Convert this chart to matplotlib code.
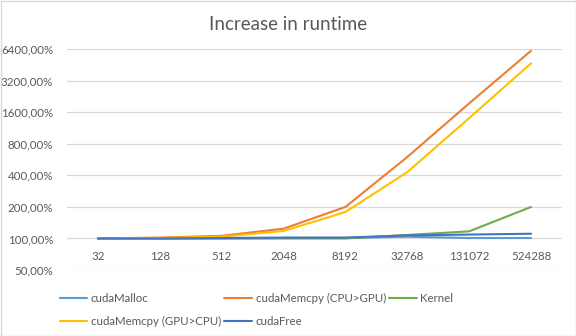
import matplotlib
matplotlib.use("Agg")
import matplotlib.pyplot as plt
from matplotlib.patches import Rectangle
from matplotlib.ticker import FixedLocator, FuncFormatter, NullLocator

plt.rcParams['font.family'] = ['Lato', 'DejaVu Sans']

sizes = ["32", "128", "512", "2048", "8192", "32768", "131072", "524288"]

# runtime relative to the baseline, in percent
cuda_malloc = [100, 100, 100, 101, 101, 104, 101, 101]
memcpy_h2d = [100, 102, 106, 124, 200, 600, 1950, 6200]
kernel = [100, 100, 100, 100, 100, 108, 117, 200]
memcpy_d2h = [100, 101, 104, 118, 179, 430, 1410, 4700]
cuda_free = [100, 100, 101, 102, 102, 107, 109, 111]

series = [
    ("cudaMalloc", cuda_malloc, "#5B9BD5"),
    ("cudaMemcpy (CPU>GPU)", memcpy_h2d, "#ED7D31"),
    ("Kernel", kernel, "#70AD47"),
    ("cudaMemcpy (GPU>CPU)", memcpy_d2h, "#FFC000"),
    ("cudaFree", cuda_free, "#4472C4"),
]

text_col = "#595959"
grid_col = "#D9D9D9"

fig = plt.figure(figsize=(5.76, 3.36), dpi=100)
ax = fig.add_axes([67 / 576, 1 - 270 / 336, 495 / 576, (270 - 49.3) / 336])

x = list(range(len(sizes)))
lines = {}
for name, vals, col in series:
    ln, = ax.plot(x, vals, color=col, lw=1.5, label=name, solid_capstyle="round")
    lines[name] = ln

ax.set_yscale("log", base=2)
ax.set_ylim(50, 6400)
ax.set_xlim(-0.5, len(sizes) - 0.5)
yt = [50, 100, 200, 400, 800, 1600, 3200, 6400]
ax.yaxis.set_major_locator(FixedLocator(yt))
ax.yaxis.set_minor_locator(NullLocator())
ax.yaxis.set_major_formatter(FuncFormatter(lambda v, p: f"{v:.2f}".replace(".", ",") + "%"))
ax.grid(axis="y", color=grid_col, lw=0.9)
ax.set_axisbelow(True)

# category axis crosses at 100%
ax.spines["bottom"].set_position(("data", 100))
for s in ax.spines.values():
    s.set_visible(False)
ax.set_xticks(x)
ax.set_xticklabels(sizes)
ax.tick_params(axis="x", length=0, pad=9, labelsize=8.3, labelcolor=text_col)
ax.tick_params(axis="y", length=0, pad=10, labelsize=8.3, labelcolor=text_col)

fig.text(0.5, 1 - 24 / 336, "Increase in runtime", ha="center", va="center",
         fontsize=13.5, color=text_col)

order = ["cudaMalloc", "cudaMemcpy (GPU>CPU)", "cudaMemcpy (CPU>GPU)", "cudaFree", "Kernel"]
leg = fig.legend([lines[n] for n in order], order, ncol=3, loc="upper left",
                 bbox_to_anchor=(55 / 576, 1 - 288 / 336), frameon=False,
                 fontsize=8.3, handlelength=2.4, handletextpad=0.3,
                 columnspacing=0.3, labelspacing=1.05, borderaxespad=0)
for t in leg.get_texts():
    t.set_color(text_col)

fig.patches.append(Rectangle((0.5 / 576, 0.5 / 336), 575 / 576, 335 / 336,
                             transform=fig.transFigure, fill=False,
                             edgecolor=grid_col, lw=1))

fig.savefig("out.png", dpi=100)
